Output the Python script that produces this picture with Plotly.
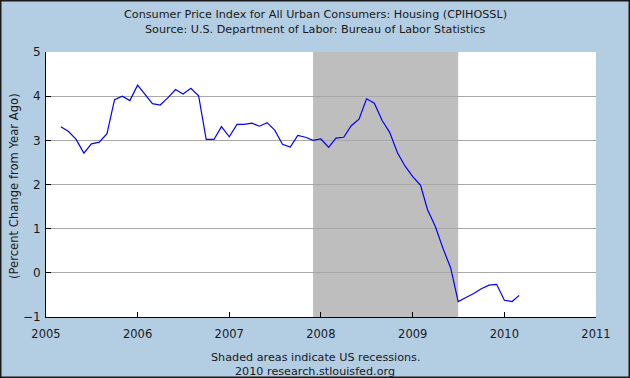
import plotly.graph_objects as go
import pandas as pd

# Monthly observations, Mar 2005 - Mar 2010
start_month = "2005-03-01"
values = [
    3.31, 3.20, 3.02, 2.71, 2.92, 2.96, 3.15, 3.92, 4.00, 3.90,
    4.25, 4.04, 3.83, 3.80, 3.96, 4.15, 4.05, 4.18, 4.01, 3.02,
    3.02, 3.31, 3.08, 3.36, 3.36, 3.39, 3.32, 3.40, 3.23, 2.91,
    2.85, 3.11, 3.07, 3.00, 3.03, 2.84, 3.05, 3.07, 3.33, 3.48,
    3.94, 3.84, 3.45, 3.18, 2.72, 2.42, 2.18, 1.98, 1.43, 1.05,
    0.56, 0.11, -0.65, -0.56, -0.47, -0.36, -0.28, -0.26, -0.62, -0.65,
    -0.51,
]
dates = pd.date_range(start_month, periods=len(values), freq="MS")

recession_start = "2007-12-01"
recession_end = "2009-07-01"

year_ticks = ["2005-01-01", "2006-01-01", "2007-01-01", "2008-01-01",
              "2009-01-01", "2010-01-01", "2011-01-01"]
year_labels = ["2005", "2006", "2007", "2008", "2009", "2010", "2011"]
y_ticks = [-1, 0, 1, 2, 3, 4, 5]

title_text = "Consumer Price Index for All Urban Consumers: Housing (CPIHOSSL)"
source_text = "Source: U.S. Department of Labor: Bureau of Labor Statistics"
note_text = "Shaded areas indicate US recessions."
credit_text = "2010 research.stlouisfed.org"
y_title = "(Percent Change from Year Ago)"

W, H = 630, 378
L, R, T, B = 46, 34, 52, 61
pw, ph = W - L - R, H - T - B

def px(x):
    return (x - L) / pw

def py(y):
    return (H - B - y) / ph

font = "DejaVu Sans, Verdana, sans-serif"
bg = "#B3CDE3"
txt = "#1a1a1a"

fig = go.Figure()
fig.add_trace(go.Scatter(x=dates, y=values, mode="lines",
                         line=dict(color="#0000FF", width=1.2),
                         hoverinfo="skip", showlegend=False))

fig.add_shape(type="rect", xref="x", yref="paper",
              x0=recession_start, x1=recession_end, y0=0, y1=1,
              fillcolor="#BEBEBE", line=dict(width=0), layer="between")

# outer border
fig.add_shape(type="rect", xref="paper", yref="paper",
              x0=px(0.75), x1=px(629.25), y0=py(377.25), y1=py(0.75),
              line=dict(color="#1a1a1a", width=1.5), fillcolor="rgba(0,0,0,0)",
              layer="above")

anns = [
    (title_text, 315, 14),
    (source_text, 315, 29),
    (note_text, 315, 357),
    (credit_text, 315, 371),
]
for text, x, y in anns:
    fig.add_annotation(text=text, x=px(x), y=py(y), xref="paper", yref="paper",
                       showarrow=False, xanchor="center", yanchor="middle",
                       font=dict(family=font, size=11.2, color=txt))

fig.add_annotation(text=y_title, x=px(14), y=py(186), xref="paper", yref="paper",
                   showarrow=False, textangle=-90, xanchor="center", yanchor="middle",
                   font=dict(family=font, size=11.6, color=txt))

fig.update_layout(
    width=W, height=H,
    margin=dict(l=L, r=R, t=T, b=B, pad=0),
    paper_bgcolor=bg, plot_bgcolor="white",
    font=dict(family=font, size=11, color=txt),
    xaxis=dict(type="date", range=["2005-01-01", "2011-01-01"],
               tickvals=year_ticks, ticktext=year_labels,
               ticks="inside", ticklen=5, tickcolor="black", tickwidth=1,
               showline=True, linecolor="black", linewidth=1,
               showgrid=False, zeroline=False, ticklabelstandoff=6,
               tickfont=dict(family=font, size=11.5, color=txt)),
    yaxis=dict(range=[-1, 5], tickvals=y_ticks,
               ticks="inside", ticklen=5, tickcolor="black", tickwidth=1,
               showline=True, linecolor="black", linewidth=1,
               showgrid=True, gridcolor="#A8A8A8", gridwidth=1,
               zeroline=False, ticklabelstandoff=2,
               tickfont=dict(family=font, size=12, color=txt)),
)

fig.write_html("out.html", config={"displayModeBar": False},
               post_script="document.body.style.margin='0';document.body.style.overflow='hidden';")
